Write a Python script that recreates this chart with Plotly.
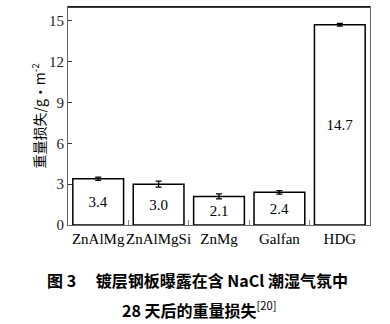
import plotly.graph_objects as go

categories = ["ZnAlMg", "ZnAlMgSi", "ZnMg", "Galfan", "HDG"]
weight_loss = [3.4, 3.0, 2.1, 2.4, 14.7]
error = [0.12, 0.22, 0.18, 0.13, 0.1]
labels = ["3.4", "3.0", "2.1", "2.4", "14.7"]
y_ticks = [0, 3, 6, 9, 12, 15]

serif = "Liberation Serif, Times New Roman, serif"
cjk = "Noto Sans CJK SC"

fig = go.Figure()
fig.add_trace(go.Bar(
    x=categories, y=weight_loss, width=0.84,
    marker=dict(color="white", line=dict(color="black", width=1.5)),
    text=labels, textposition="inside", insidetextanchor="middle",
    textfont=dict(family=serif, size=15, color="black"),
    error_y=dict(type="data", array=error, visible=True, color="black", thickness=1.3, width=3),
    constraintext="none", cliponaxis=False,
))

fig.update_layout(
    width=390, height=324,
    margin=dict(l=67.5, r=20, t=7, b=98.5),
    plot_bgcolor="white", paper_bgcolor="white",
    showlegend=False,
    xaxis=dict(
        showline=True, linecolor="#666", linewidth=1, mirror=True,
        ticks="inside", tickson="boundaries", ticklen=5, tickcolor="#888",
        tickangle=0,
        tickfont=dict(family=serif, size=15, color="black"),
        showgrid=False,
    ),
    yaxis=dict(
        range=[0, 16], tickvals=y_ticks,
        showline=True, linecolor="#666", linewidth=1, mirror=True,
        ticks="inside", ticklen=4, tickcolor="#333",
        tickfont=dict(family=serif, size=15, color="#222"),
        showgrid=False, zeroline=False,
        title=dict(text="重量损失/g•m<sup>-2</sup>", font=dict(family=cjk + ", " + serif, size=14, color="black"), standoff=0),
    ),
    shapes=[dict(type="line", xref="paper", yref="paper", x0=0, x1=1, y0=1, y1=1,
                 line=dict(color="black", width=1.5))],
    annotations=[
        dict(text="<b>图 3\u3000 镀层钢板曝露在含 NaCl 潮湿气氛中</b>", xref="paper", yref="paper",
             x=0.43, y=-0.254, xanchor="center", yanchor="middle", showarrow=False,
             font=dict(family=cjk, size=16, color="black")),
        dict(text="<b>28 天后的重量损失</b><sup>[20]</sup>", xref="paper", yref="paper",
             x=0.435, y=-0.387, xanchor="center", yanchor="middle", showarrow=False,
             font=dict(family=cjk, size=16, color="black")),
    ],
)

fig.write_html("out.html")
